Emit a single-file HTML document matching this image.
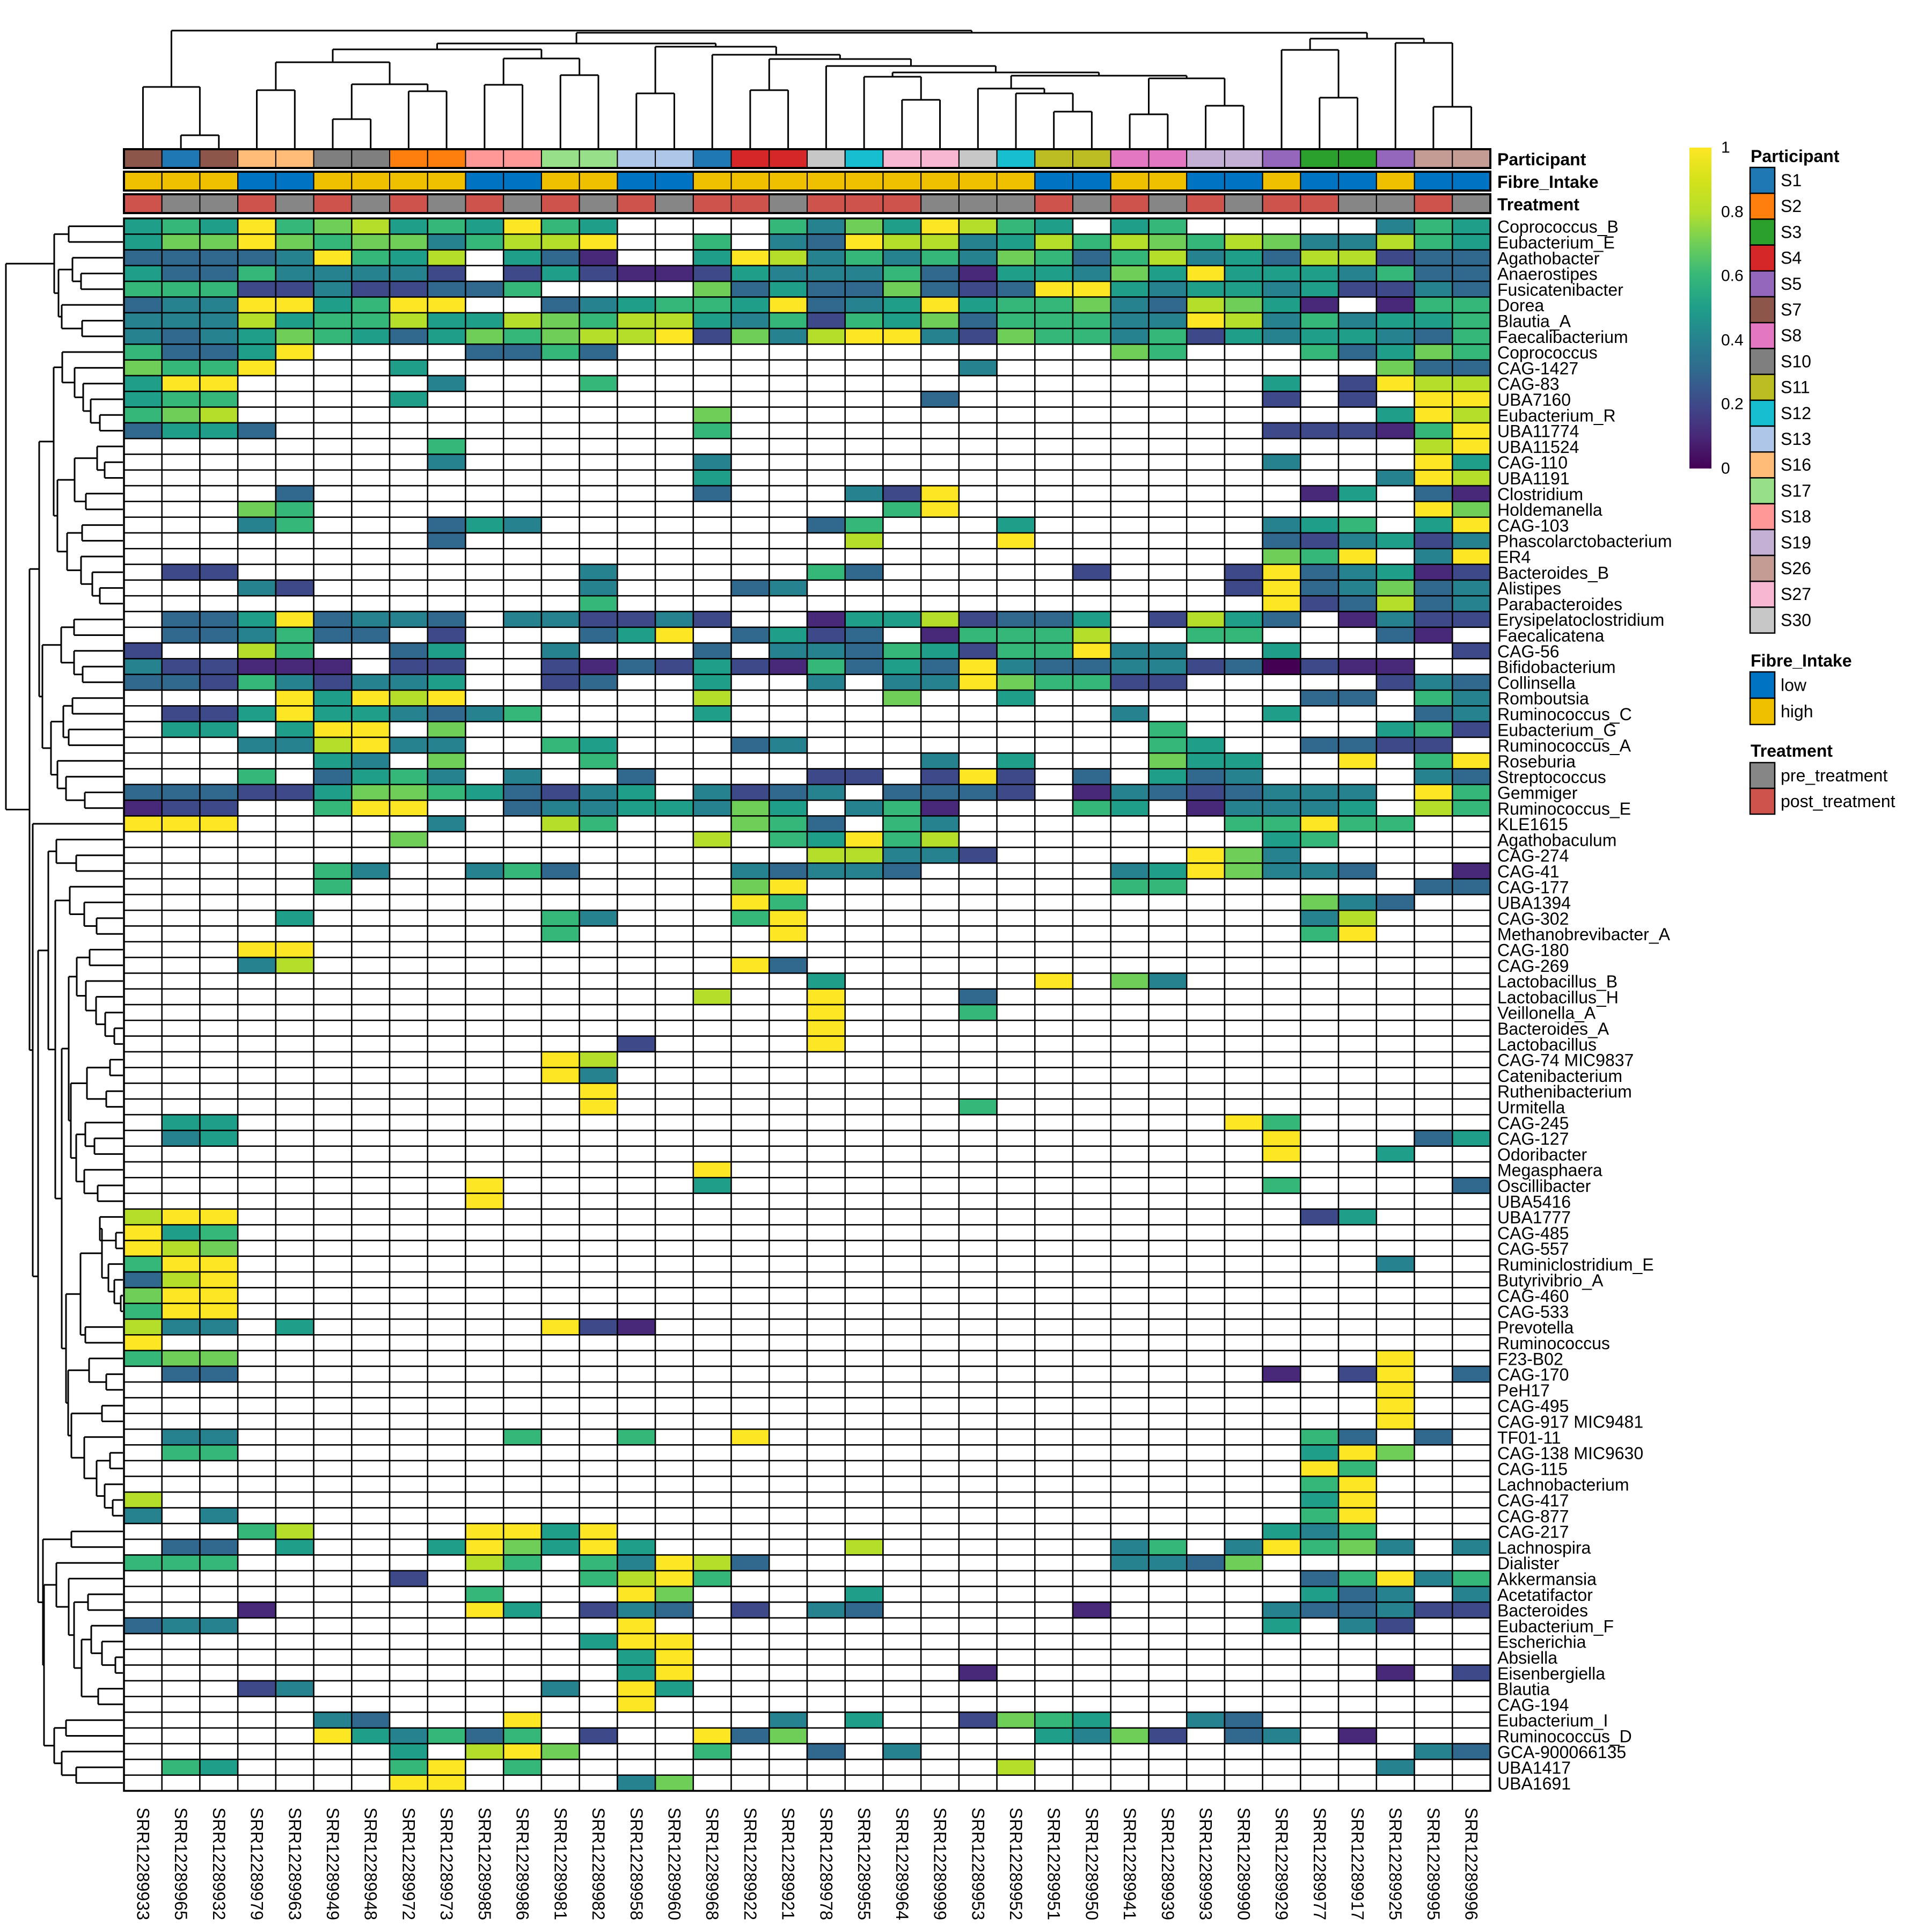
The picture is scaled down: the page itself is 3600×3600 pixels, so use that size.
<!DOCTYPE html>
<html><head><meta charset="utf-8"><style>
html,body{margin:0;padding:0;background:#fff;}
svg{display:block;font-family:"Liberation Sans",Arial,sans-serif;}
</style></head><body>
<svg id="s" xmlns="http://www.w3.org/2000/svg" width="3600" height="3600" viewBox="0 0 3600 3600">
<defs>
<linearGradient id="vir" x1="0" y1="1" x2="0" y2="0">
<stop offset="0" stop-color="#440154"/><stop offset="0.1" stop-color="#482878"/><stop offset="0.2" stop-color="#3e4989"/><stop offset="0.3" stop-color="#31688e"/><stop offset="0.4" stop-color="#26828e"/><stop offset="0.5" stop-color="#1f9e89"/><stop offset="0.6" stop-color="#35b779"/><stop offset="0.7" stop-color="#6ece58"/><stop offset="0.8" stop-color="#b5de2b"/><stop offset="0.9" stop-color="#d4e21a"/><stop offset="1" stop-color="#fde725"/>
</linearGradient>
</defs>
<rect width="3600" height="3600" fill="#fff"/>
<g id="g"></g>
</svg>
<script>
(function(){
var NS="http://www.w3.org/2000/svg",g=document.getElementById('g');
function el(t,a,txt){var e=document.createElementNS(NS,t);for(var k in a)e.setAttribute(k,a[k]);if(txt!=null)e.textContent=txt;g.appendChild(e);return e;}
var X0=231,X1=2777,NC=36,CW=(X1-X0)/NC,Y0=407,RH=29.3;
var C={'0':'#440154','1':'#482878','2':'#3e4989','3':'#31688e','4':'#26828e','5':'#1f9e89','6':'#35b779','7':'#6ece58','8':'#b5de2b','9':'#fde725','.':'#ffffff'};
var names=["Coprococcus_B","Eubacterium_E","Agathobacter","Anaerostipes","Fusicatenibacter","Dorea","Blautia_A","Faecalibacterium","Coprococcus","CAG-1427","CAG-83","UBA7160","Eubacterium_R","UBA11774","UBA11524","CAG-110","UBA1191","Clostridium","Holdemanella","CAG-103","Phascolarctobacterium","ER4","Bacteroides_B","Alistipes","Parabacteroides","Erysipelatoclostridium","Faecalicatena","CAG-56","Bifidobacterium","Collinsella","Romboutsia","Ruminococcus_C","Eubacterium_G","Ruminococcus_A","Roseburia","Streptococcus","Gemmiger","Ruminococcus_E","KLE1615","Agathobaculum","CAG-274","CAG-41","CAG-177","UBA1394","CAG-302","Methanobrevibacter_A","CAG-180","CAG-269","Lactobacillus_B","Lactobacillus_H","Veillonella_A","Bacteroides_A","Lactobacillus","CAG-74 MIC9837","Catenibacterium","Ruthenibacterium","Urmitella","CAG-245","CAG-127","Odoribacter","Megasphaera","Oscillibacter","UBA5416","UBA1777","CAG-485","CAG-557","Ruminiclostridium_E","Butyrivibrio_A","CAG-460","CAG-533","Prevotella","Ruminococcus","F23-B02","CAG-170","PeH17","CAG-495","CAG-917 MIC9481","TF01-11","CAG-138 MIC9630","CAG-115","Lachnobacterium","CAG-417","CAG-877","CAG-217","Lachnospira","Dialister","Akkermansia","Acetatifactor","Bacteroides","Eubacterium_F","Escherichia","Absiella","Eisenbergiella","Blautia","CAG-194","Eubacterium_I","Ruminococcus_D","GCA-900066135","UBA1417","UBA1691"];
var E="..........";
var D=[
"5659678565965....64759865.56.....465",
"5779767746889..6.4398845868768744865",
"333349658.531..598464647636845388233",
"533644442."+"2521125444"+"6315547595"+"554633",
"6662242233"+"6....73533"+"7323995455"+"452243",
"344995699."+".345665934"+"5956674387"+"51.166",
"4448566855"+"8768854626"+"5736664498"+"464556",
"4345765357"+"6788927489"+"9427664625"+"455436",
"63359....3"+"363......."+"......76.."+".63576",
"7669...5.."+E+"..4......."+"...733",
"599.....4."+"..6......."+E+"5.2988",
"566....5.."+E+".3........"+"2.2.99",
"678......."+".....7...."+E+"...598",
"3553......"+".....6...."+E+"222169",
"........6."+E+E+"....89",
"........4."+".....4...."+E+"4...95",
E+".....5...."+E+"...498",
"....3....."+".....3...4"+"29........"+".15.31",
"...76....."+E+"69........"+"....97",
"...46...35"+"4.......36"+"...5......"+"456.59",
"........3."+".........8"+"...9......"+"324524",
E+E+E+"769.49",
".22......."+"..4.....63"+".....2...2"+"934512",
"...42....."+"..4...34.."+".........2"+"934734",
E+"..6......."+E+"923834",
".33593443."+"442242..15"+"582335.285"+"3.1422",
".334633.2."+"..359.3523"+".16668..66"+"...31.",
"2..86..35."+".4...3.443"+"65266944.."+"5....2",
"422111.22."+".213252163"+"5394334423"+"0211..",
"332642445."+".23..5..4."+"44976622.."+"...243",
"....95989."+".....8...."+"7..5......"+".33.64",
".225955434"+"6....5...."+"......4..."+"5...34",
".55.599.7."+E+".......6.."+"...562",
"...448944."+".65...34.."+".......65."+".3322.",
".....54.7."+"..6......."+".4.5...755"+"..9.69",
"...6.3564."+"4..3....22"+".292.3.534"+"....43",
"3332257765"+"3245.4234."+"3332.14323"+"444.96",
"122..699.."+"34455475.4"+"61...65.14"+"445.86",
"999.....4."+".86...763."+"64.......6"+"6966..",
".......7.."+".....8.659"+"68........"+"56....",
E+"........88"+"442.....97"+"4.....",
".....64..4"+"63....4344"+"3.....4597"+"443..1",
".....6...."+"......79.."+"......66.."+"....33",
E+"......96.."+E+".743..",
"....5....."+".64...69.."+E+".48...",
E+".6.....9.."+E+".69...",
"...99....."+E+E+"......",
"...48....."+"......93.."+E+"......",
E+"........5."+"....9.74.."+"......",
E+".....8..9."+"..3......."+"......",
E+"........9."+"..6......."+"......",
E+"........9."+E+"......",
E+"...2....9."+E+"......",
E+".98......."+E+"......",
E+".94......."+E+"......",
E+"..9......."+E+"......",
E+"..9......."+"..6......."+"......",
".55......."+E+".........9"+"6.....",
".45......."+E+E+"9...35",
E+E+E+"9..5..",
E+".....9...."+E+"......",
".........9"+".....5...."+E+"6....3",
".........9"+E+E+"......",
"899......."+E+E+".25...",
"956......."+E+E+"......",
"987......."+E+E+"......",
"699......."+E+E+"...4..",
"389......."+E+E+"......",
"799......."+E+E+"......",
"699......."+E+E+"......",
"844.5....."+".921......"+E+"......",
"9........."+E+E+"......",
"677......."+E+E+"...9..",
".33......."+E+E+"1.29.3",
E+E+E+"...9..",
E+E+E+"...9..",
E+E+E+"...9..",
".44......."+"6..6..9..."+E+".63.3.",
".66......."+E+E+".597..",
E+E+E+".96...",
E+E+E+".69...",
"8........."+E+E+".59...",
"4.4......."+E+E+".69...",
"...68....9"+"959......."+E+"546...",
".33.5...59"+"7595.....8"+"......46.4"+"9674.4",
"666......8"+"6.64983..."+"......4437"+"......",
".......2.."+"..6896...."+E+".36946",
".........6"+"...97....5"+E+".534.4",
"...1.....9"+"5.243.2.43"+".....1...."+"433422",
"344......."+"...9......"+E+"5.42..",
E+"..599....."+E+"......",
E+"...59....."+E+"......",
E+"...59....."+"..1......."+"...1.2",
"...24....."+".4.95....."+E+"......",
E+"...9......"+E+"......",
".....43..."+"9......4.5"+"..2765..43"+"......",
".....95463"+"6.2..937.."+"....5472.3"+"4.1...",
".......5.8"+"97...6..3."+"4........."+"....43",
".65....69."+"6........."+"...8......"+"...4..",
".......99."+"...47....."+E+"......"
];
// heatmap cells
for(var r=0;r<D.length;r++){var s=D[r];for(var c=0;c<NC;c++){var ch=s.charAt(c)||'.';
el('rect',{x:(X0+c*CW).toFixed(2),y:(Y0+r*RH).toFixed(2),width:CW.toFixed(2),height:RH.toFixed(2),fill:C[ch],stroke:'#000','stroke-width':2.5});}
el('text',{x:2790,y:(Y0+(r+0.5)*RH+1).toFixed(1),'font-size':32,'dominant-baseline':'central'},names[r]);}
// annotations
var P={S1:'#1f77b4',S2:'#ff7f0e',S3:'#2ca02c',S4:'#d62728',S5:'#9467bd',S7:'#8c564b',S8:'#e377c2',S10:'#7f7f7f',S11:'#bcbd22',S12:'#17becf',S13:'#aec7e8',S16:'#ffbb78',S17:'#98df8a',S18:'#ff9896',S19:'#c5b0d5',S26:'#c49c94',S27:'#f7b6d2',S30:'#c7c7c7'};
var part="S7 S1 S7 S16 S16 S10 S10 S2 S2 S18 S18 S17 S17 S13 S13 S1 S4 S4 S30 S12 S27 S27 S30 S12 S11 S11 S8 S8 S19 S19 S5 S3 S3 S5 S26 S26".split(' ');
var fib="HHHLLHHHHLLHHLLHHHHHHHHHLLHHLLHLLHLL";
var trt="QRRQRQRQRQRQRQRQQRQQQRRRQRQRQRQQRRQR";
var cols=["SRR12289933","SRR12289965","SRR12289932","SRR12289979","SRR12289963","SRR12289949","SRR12289948","SRR12289972","SRR12289973","SRR12289985","SRR12289986","SRR12289981","SRR12289982","SRR12289958","SRR12289960","SRR12289968","SRR12289922","SRR12289921","SRR12289978","SRR12289955","SRR12289964","SRR12289999","SRR12289953","SRR12289952","SRR12289951","SRR12289950","SRR12289941","SRR12289939","SRR12289993","SRR12289990","SRR12289929","SRR12289977","SRR12289917","SRR12289925","SRR12289995","SRR12289996"];
for(var c=0;c<NC;c++){var x=X0+c*CW;
el('rect',{x:x.toFixed(2),y:279,width:CW.toFixed(2),height:34,fill:P[part[c]],stroke:'#000','stroke-width':2});
el('rect',{x:x.toFixed(2),y:321,width:CW.toFixed(2),height:34,fill:fib[c]=='H'?'#efc000':'#0073c2',stroke:'#000','stroke-width':2});
el('rect',{x:x.toFixed(2),y:363,width:CW.toFixed(2),height:34,fill:trt[c]=='Q'?'#cd534c':'#868686',stroke:'#000','stroke-width':2});
var cx=x+CW/2;el('text',{x:cx.toFixed(1),y:3368,'font-size':32,'dominant-baseline':'central',transform:'rotate(90 '+cx.toFixed(1)+' 3368)'},cols[c]);}
el('rect',{x:X0,y:278,width:X1-X0,height:35,fill:'none',stroke:'#000','stroke-width':4});
el('rect',{x:X0,y:320,width:X1-X0,height:35,fill:'none',stroke:'#000','stroke-width':4});
el('rect',{x:X0,y:362,width:X1-X0,height:35,fill:'none',stroke:'#000','stroke-width':4});
el('rect',{x:X0,y:Y0,width:X1-X0,height:RH*100,fill:'none',stroke:'#000','stroke-width':3.5});
el('text',{x:2790,y:297,'font-size':32,'font-weight':'bold','dominant-baseline':'central'},'Participant');
el('text',{x:2790,y:339,'font-size':32,'font-weight':'bold','dominant-baseline':'central'},'Fibre_Intake');
el('text',{x:2790,y:381,'font-size':32,'font-weight':'bold','dominant-baseline':'central'},'Treatment');
// dendrograms
var SW=3;
function line(a,b,c,d){el('line',{x1:a.toFixed(1),y1:b.toFixed(1),x2:c.toFixed(1),y2:d.toFixed(1),stroke:'#000','stroke-width':SW});}
function rowD(n){if(typeof n==='number')return{c:Y0+(n+0.5)*RH,h:229};var a=rowD(n[0]),b=rowD(n[1]),h=n[2];
line(a.h,a.c,h,a.c);line(b.h,b.c,h,b.c);line(h,a.c,h,b.c);return{c:(a.c+b.c)/2,h:h};}
function colD(n){if(typeof n==='number')return{c:X0+(n+0.5)*CW,h:276};var a=colD(n[0]),b=colD(n[1]),h=n[2];
line(a.c,a.h,a.c,h);line(b.c,b.h,b.c,h);line(a.c,h,b.c,h);return{c:(a.c+b.c)/2,h:h};}
var A=[[0,1,128],[[2,[3,4,151],135],[5,[6,7,153],115],109],101];
var B1a=[[8,[9,[10,[11,[12,13,186],169],155],139],116],[[[[14,[15,16,195],181],[17,18,160],139]],[[19,20,153],[21,[22,[23,24,186],172],151],125],107],100];
B1a=[[8,[9,[10,[11,[12,13,186],169],155],139],116],[[[14,[15,16,195],181],[17,18,160],139],[[19,20,153],[21,[22,[23,24,186],172],151],125],107],100];
var B1b=[[[25,26,138],[27,[28,29,154],138],114],[[[30,31,135],[32,33,128],118],[34,[35,[36,37,158],123],107],95],79];
var B1=[B1a,B1b,73];
var C1a=[39,[40,41,142],105];
var C1b1=[42,[43,[44,45,180],157],130];
var X1=[[46,47,167],[48,[49,[50,[51,52,213],196],179],160],143];
var X2=[[[53,54,205],[55,56,198],162],[[57,[58,59,176],159],[60,[61,62,182],157],142],132];
var Y1=[[[63,[64,65,216],186],[66,[67,[68,69,225],213],202],190],[70,71,159],150];
var Y2=[[72,[73,74,198],166],[[75,76,190],[77,[[78,79,205],[80,[81,82,210],195],180],157],133],127];
var C1b=[C1b1,[[X1,X2,128],[Y1,Y2,123],115],103];
var C1=[C1a,C1b,90];
var C2=[[83,84,133],[[85,[86,[[87,88,164],[[89,[90,[91,92,215],190],170],[93,94,183],152],138],128],105],[[95,96,123],[97,[98,99,142],115],101],82],80];
var ROOT=[A,[B1,[38,[C1,C2,71],61],55],11];
rowD(ROOT);
var L=[[[[3,4,168],[[5,6,222],[7,8,170],157],116],[[9,10,158],[11,12,140],109],92],[[13,14,174],[15,[[16,17,168],[18,[[19,[20,21,186],143],[[22,[23,[24,25,208],174],165],[[26,27,213],[28,29,197],146],141],135],123],110],102],87],81];
var R=[[30,[31,32,182],93],[33,[34,35,199],80],72];
colD([[0,[1,2,252],162],[L,R,61],57]);
// color bar legend
el('rect',{x:3148,y:275,width:41,height:598,fill:'url(#vir)'});
var lab=[['1',275],['0.8',395],['0.6',514],['0.4',634],['0.2',753],['0',873]];
lab.forEach(function(l){el('text',{x:3207,y:l[1],'font-size':30,'dominant-baseline':'central'},l[0]);});
// participant legend
el('text',{x:3262,y:302,'font-size':32,'font-weight':'bold'},'Participant');
var pl=["S1","S2","S3","S4","S5","S7","S8","S10","S11","S12","S13","S16","S17","S18","S19","S26","S27","S30"];
pl.forEach(function(p,i){var y=312+i*48.2;el('rect',{x:3261,y:y.toFixed(1),width:46,height:48.2,fill:P[p],stroke:'#000','stroke-width':2.5});
el('text',{x:3318,y:(y+24).toFixed(1),'font-size':32,'dominant-baseline':'central'},p);});
el('text',{x:3262,y:1242,'font-size':32,'font-weight':'bold'},'Fibre_Intake');
[['low','#0073c2'],['high','#efc000']].forEach(function(p,i){var y=1252+i*49;el('rect',{x:3261,y:y,width:46,height:49,fill:p[1],stroke:'#000','stroke-width':2.5});
el('text',{x:3318,y:y+24.5,'font-size':32,'dominant-baseline':'central'},p[0]);});
el('text',{x:3262,y:1410,'font-size':32,'font-weight':'bold'},'Treatment');
[['pre_treatment','#868686'],['post_treatment','#cd534c']].forEach(function(p,i){var y=1421+i*48;el('rect',{x:3261,y:y,width:46,height:48,fill:p[1],stroke:'#000','stroke-width':2.5});
el('text',{x:3318,y:y+24,'font-size':32,'dominant-baseline':'central'},p[0]);});
})();
</script>
</body></html>
